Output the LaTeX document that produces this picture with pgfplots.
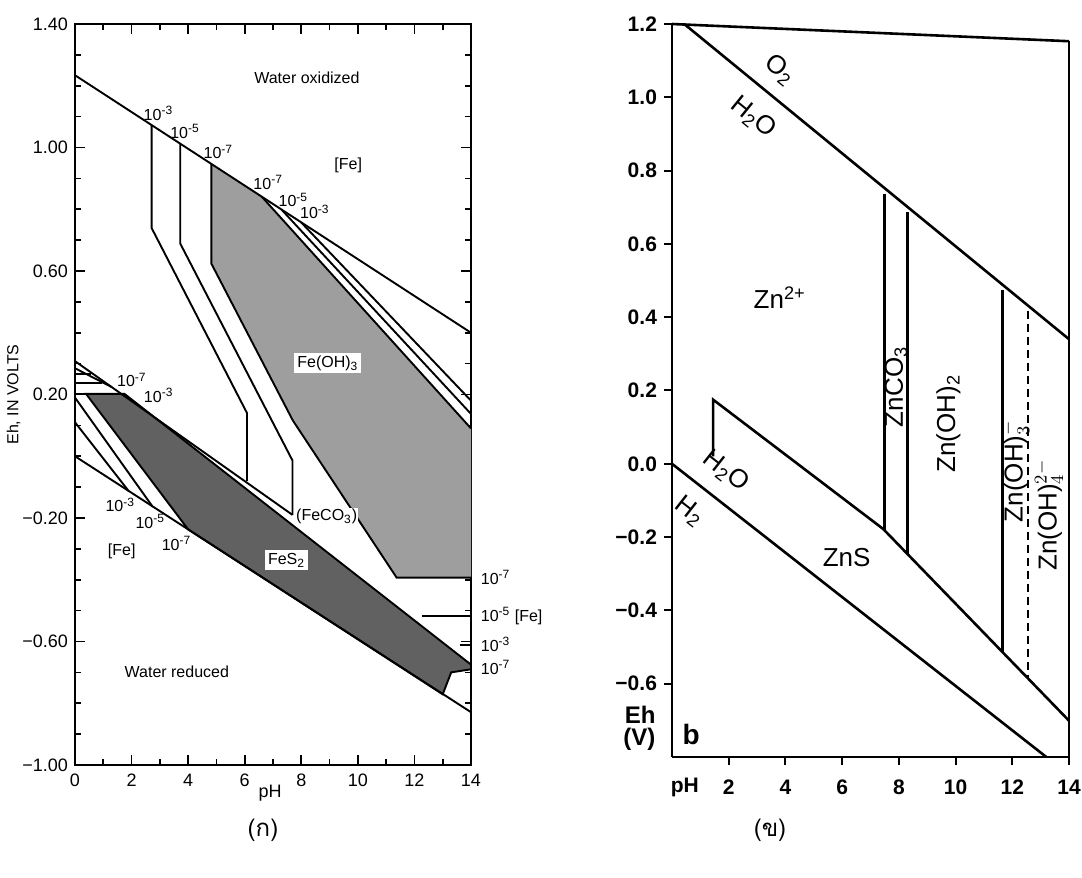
\documentclass[border=0pt]{standalone}
\usepackage{pgfplots}
\pgfplotsset{compat=1.18}
\usepackage{fontspec}
\setmainfont{Liberation Sans}
\newfontfamily\thaifont[Script=Thai]{Loma}
\begin{document}
\begin{tikzpicture}[x=1pt,y=1pt]
\path[use as bounding box] (0,0) rectangle (541,439);
% ---------------- left panel (Fe) ----------------
\begin{axis}[at={(37.5pt,56.5pt)}, anchor=south west, scale only axis,
  width=198pt, height=370.5pt, xmin=0, xmax=14, ymin=-1, ymax=1.4,
  clip=false, axis line style={line width=0.9pt},
  xtick={0,2,4,6,8,10,12,14}, xticklabels={0,2,4,6,8,10,12,14},
  minor xtick={1,3,5,7,9,11,13},
  ytick={-1,-0.6,-0.2,0.2,0.6,1.0,1.4},
  yticklabels={−1.00,−0.60,−0.20,0.20,0.60,1.00,1.40},
  minor ytick={-0.9,-0.8,-0.7,-0.5,-0.4,-0.3,-0.1,0,0.1,0.3,0.4,0.5,0.7,0.8,0.9,1.1,1.2,1.3},
  tick align=inside, major tick length=5pt, minor tick length=3pt,
  tick style={line width=0.8pt, black},
  ticklabel style={font=\fontsize{9}{10}\selectfont},
  xticklabel style={yshift=-1pt},
  ylabel={Eh, IN VOLTS}, ylabel style={font=\fontsize{8}{9}\selectfont, at={(axis description cs:-0.155,0.5)}, anchor=center},
  cycle list={{black, mark=none, solid}},
  every axis plot post/.append style={line width=0.95pt},
  font=\fontsize{8}{9}\selectfont]
% shaded fields
\addplot[fill=black!38, draw=none, mark=none] coordinates {(4.82,0.947)(6.6,0.841)(14,0.09)(14,-0.393)(11.37,-0.393)(7.7,0.116)(4.82,0.624)} --cycle;
\addplot[fill=black!62, draw=black, mark=none] coordinates {(0.39,0.202)(1.75,0.202)(14,-0.675)(14,-0.69)(13.3,-0.70)(13.0,-0.771)(4.0,-0.237)} --cycle;
% water lines
\addplot coordinates {(0,1.234)(14,0.40)};
\addplot coordinates {(0,0)(14,-0.829)};
% Fe(OH)3 boundaries
\addplot coordinates {(2.71,1.073)(2.71,0.739)(6.08,0.14)(6.08,-0.08)};
\addplot coordinates {(3.72,1.012)(3.72,0.689)(7.69,-0.014)(7.69,-0.19)};
\addplot coordinates {(4.82,0.947)(4.82,0.624)(7.7,0.116)(11.37,-0.393)(14,-0.393)};
\addplot coordinates {(6.6,0.841)(14,0.09)};
\addplot coordinates {(7.3,0.799)(14,0.137)};
\addplot coordinates {(8.0,0.757)(14,0.18)};
% lower field lines
\addplot coordinates {(0,0.308)(7.69,-0.19)};
\addplot coordinates {(0,0.285)(1.3,0.224)};
\addplot coordinates {(0,0.265)(0.55,0.265)};
\addplot coordinates {(0,0.238)(0.95,0.238)};
\addplot coordinates {(0,0.202)(0.39,0.202)};
\addplot coordinates {(0,0.19)(2.75,-0.164)};
\addplot coordinates {(0,0.11)(1.9,-0.113)};
\addplot coordinates {(12.25,-0.517)(14,-0.517)};
\addplot coordinates {(13.6,-0.61)(14,-0.61)};
% labels
\node at (axis cs:8.2,1.227) {Water oxidized};
\node at (axis cs:9.66,0.943) {[Fe]};
\node at (axis cs:2.95,1.11) {10\textsuperscript{-3}};
\node at (axis cs:3.89,1.051) {10\textsuperscript{-5}};
\node at (axis cs:5.07,0.986) {10\textsuperscript{-7}};
\node at (axis cs:6.83,0.886) {10\textsuperscript{-7}};
\node at (axis cs:7.72,0.830) {10\textsuperscript{-5}};
\node at (axis cs:8.48,0.792) {10\textsuperscript{-3}};
\node[fill=white, inner sep=1.5pt] at (axis cs:8.94,0.302) {Fe(OH)\textsubscript{3}};
\node at (axis cs:2.01,0.247) {10\textsuperscript{-7}};
\node at (axis cs:2.96,0.198) {10\textsuperscript{-3}};
\node at (axis cs:1.6,-0.158) {10\textsuperscript{-3}};
\node at (axis cs:2.66,-0.212) {10\textsuperscript{-5}};
\node at (axis cs:3.59,-0.282) {10\textsuperscript{-7}};
\node at (axis cs:1.65,-0.309) {[Fe]};
\node[fill=white, inner sep=0.5pt] at (axis cs:8.9,-0.196) {(FeCO\textsubscript{3})};
\node[fill=white, inner sep=1.5pt] at (axis cs:7.48,-0.336) {FeS\textsubscript{2}};
\node at (axis cs:3.6,-0.698) {Water reduced};
\node[anchor=west] at (axis cs:14.1,-0.393) {10\textsuperscript{-7}};
\node[anchor=west] at (axis cs:14.1,-0.517) {10\textsuperscript{-5} [Fe]};
\node[anchor=west] at (axis cs:14.1,-0.61) {10\textsuperscript{-3}};
\node[anchor=west] at (axis cs:14.1,-0.685) {10\textsuperscript{-7}};
\node[font=\fontsize{9}{10}\selectfont] at (axis cs:6.9,-1.0) [yshift=-14pt] {pH};
\end{axis}
\node[font=\thaifont\fontsize{12}{14}\selectfont] at (131.5,24) {(ก)};
% ---------------- right panel (Zn) ----------------
\begin{axis}[at={(336pt,60.5pt)}, anchor=south west, scale only axis,
  width=198.5pt, height=366.5pt, xmin=0, xmax=14, ymin=-0.8, ymax=1.2,
  clip=false, axis x line*=bottom, axis y line*=left,
  axis line style={line width=1.2pt},
  xtick={2,4,6,8,10,12,14}, xticklabels={2,4,6,8,10,12,14},
  ytick={-0.6,-0.4,-0.2,0,0.2,0.4,0.6,0.8,1.0,1.2},
  yticklabels={−0.6,−0.4,−0.2,0.0,0.2,0.4,0.6,0.8,1.0,1.2},
  tick align=outside, major tick length=4pt,
  tick style={line width=1pt, black},
  ticklabel style={font=\fontsize{10.5}{12}\selectfont\bfseries},
  xticklabel style={yshift=-4pt},
  cycle list={{black, mark=none, solid}},
  every axis plot post/.append style={line width=1.3pt},
  font=\fontsize{13}{15}\selectfont]
\addplot coordinates {(0,1.2)(14,1.153)};
\addplot coordinates {(14,1.153)(14,-0.8)};
\addplot coordinates {(0.43,1.2)(14,0.34)};
\addplot coordinates {(0,0)(13.2,-0.8)};
\addplot coordinates {(1.45,0.02)(1.45,0.175)(7.45,-0.178)(14,-0.701)};
\addplot coordinates {(7.5,0.737)(7.5,-0.182)};
\addplot coordinates {(8.3,0.686)(8.3,-0.246)};
\addplot coordinates {(11.65,0.475)(11.65,-0.513)};
\addplot[black, mark=none, dash pattern=on 4pt off 2.5pt] coordinates {(12.55,0.418)(12.55,-0.585)};
\node[rotate=-39] at (axis cs:3.8,1.075) {O\textsubscript{2}};
\node[rotate=-39] at (axis cs:2.85,0.945) {H\textsubscript{2}O};
\node at (axis cs:3.8,0.453) {Zn\textsuperscript{2+}};
\node[rotate=90] at (axis cs:7.9,0.21) {ZnCO\textsubscript{3}};
\node[rotate=90] at (axis cs:9.75,0.11) {Zn(OH)\textsubscript{2}};
\node[rotate=90] at (axis cs:12.12,-0.02) {Zn(OH)$_3^-$};
\node[rotate=90] at (axis cs:13.3,-0.14) {Zn(OH)$_4^{2-}$};
\node at (axis cs:6.16,-0.255) {ZnS};
\node[rotate=-38] at (axis cs:1.9,-0.02) {H\textsubscript{2}O};
\node[rotate=-38] at (axis cs:0.62,-0.13) {H\textsubscript{2}};
\node[font=\fontsize{12}{14}\selectfont\bfseries] at (axis cs:-1.12,-0.686) {Eh};
\node[font=\fontsize{12}{14}\selectfont\bfseries] at (axis cs:-1.15,-0.752) {(V)};
\node[font=\fontsize{14}{16}\selectfont\bfseries] at (axis cs:0.68,-0.738) {b};
\node[font=\fontsize{10.5}{12}\selectfont\bfseries] at (axis cs:0.45,-0.8) [yshift=-15pt] {pH};
\end{axis}
\node[font=\thaifont\fontsize{12}{14}\selectfont] at (385,24) {(ข)};
\end{tikzpicture}
\end{document}
